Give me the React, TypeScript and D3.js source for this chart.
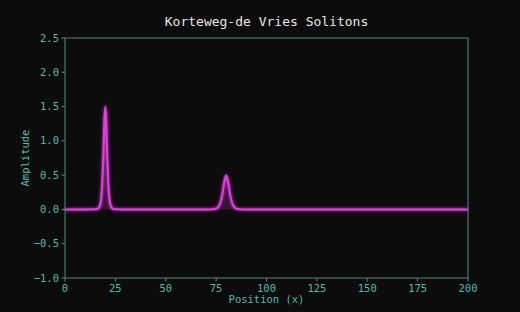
import React from "react";
import * as d3 from "d3";

const title = "Korteweg-de Vries Solitons";
const xLabel = "Position (x)";
const yLabel = "Amplitude";
const xTicks = [0, 25, 50, 75, 100, 125, 150, 175, 200];
const yTicks = [-1.0, -0.5, 0.0, 0.5, 1.0, 1.5, 2.0, 2.5];

// sampled wave profile (position, amplitude)
const positions = [
  0, 10, 14, 15, 16, 16.5, 17, 17.5, 18, 18.5, 19, 19.5, 20, 20.5, 21, 21.5, 22, 22.5, 23, 23.5, 24, 25, 26, 30,
  60, 70, 72, 73, 74, 75, 76, 77, 78, 79, 80, 81, 82, 83, 84, 85, 86, 87, 88, 90, 120, 200,
];
const amplitudes = [
  0, 0, 0.001, 0.002, 0.006, 0.014, 0.033, 0.077, 0.177, 0.387, 0.766, 1.251, 1.5, 1.251, 0.766, 0.387, 0.177,
  0.077, 0.033, 0.014, 0.006, 0.002, 0.001, 0,
  0, 0, 0.0007, 0.002, 0.005, 0.013, 0.035, 0.09, 0.21, 0.393, 0.5, 0.393, 0.21, 0.09, 0.035, 0.013, 0.005,
  0.002, 0.0007, 0, 0, 0,
];

const W = 520;
const H = 312;
const M = { left: 65, right: 468, top: 38, bottom: 278 };
const axisColor = "#558a80";
const tickColor = "#55bba6";
const lineColor = "#e23ee2";
const mono = "'DejaVu Sans Mono', monospace";

export default function App() {
  const x = d3.scaleLinear().domain([0, 200]).range([M.left, M.right]);
  const y = d3.scaleLinear().domain([-1, 2.5]).range([M.bottom, M.top]);
  const pts: [number, number][] = positions.map((p, i) => [p, amplitudes[i]]);
  const line = d3
    .line<[number, number]>()
    .x((d) => x(d[0]))
    .y((d) => y(d[1]))
    .curve(d3.curveMonotoneX);
  const area = d3
    .area<[number, number]>()
    .x((d) => x(d[0]))
    .y0(y(0))
    .y1((d) => y(d[1]))
    .curve(d3.curveMonotoneX);

  return (
    <svg
      width={W}
      height={H}
      style={{ position: "absolute", left: 0, top: 0, background: "#0c0c0c" }}
    >
      <rect x={0} y={0} width={W} height={H} fill="#0c0c0c" />
      <text x={(M.left + M.right) / 2} y={26} fill="#e6e6e6" fontFamily={mono} fontSize={13} textAnchor="middle">
        {title}
      </text>
      <defs>
        <filter id="glow" x="-20%" y="-20%" width="140%" height="140%">
          <feGaussianBlur stdDeviation="1.5" result="b" />
          <feMerge>
            <feMergeNode in="b" />
            <feMergeNode in="SourceGraphic" />
          </feMerge>
        </filter>
      </defs>
      <path d={area(pts) || ""} fill="#c030c0" fillOpacity={0.25} />
      <path d={line(pts) || ""} fill="none" stroke={lineColor} strokeWidth={2} filter="url(#glow)" />
      <rect
        x={M.left}
        y={M.top}
        width={M.right - M.left}
        height={M.bottom - M.top}
        fill="none"
        stroke={axisColor}
        strokeWidth={1}
      />
      {xTicks.map((t) => (
        <g key={"x" + t}>
          <line x1={x(t)} x2={x(t)} y1={M.bottom} y2={M.bottom + 3.5} stroke={axisColor} />
          <text x={x(t)} y={M.bottom + 14} fill={tickColor} fontFamily={mono} fontSize={10.5} textAnchor="middle">
            {t}
          </text>
        </g>
      ))}
      {yTicks.map((t) => (
        <g key={"y" + t}>
          <line x1={M.left - 3.5} x2={M.left} y1={y(t)} y2={y(t)} stroke={axisColor} />
          <text
            x={M.left - 6}
            y={y(t) + 3.5}
            fill={tickColor}
            fontFamily={mono}
            fontSize={10.5}
            textAnchor="end"
          >
            {t < 0 ? "\u2212" + Math.abs(t).toFixed(1) : t.toFixed(1)}
          </text>
        </g>
      ))}
      <text x={(M.left + M.right) / 2} y={303} fill={tickColor} fontFamily={mono} fontSize={10.5} textAnchor="middle">
        {xLabel}
      </text>
      <text
        transform={`translate(29, ${(M.top + M.bottom) / 2}) rotate(-90)`}
        fill={tickColor}
        fontFamily={mono}
        fontSize={10.5}
        textAnchor="middle"
      >
        {yLabel}
      </text>
    </svg>
  );
}
